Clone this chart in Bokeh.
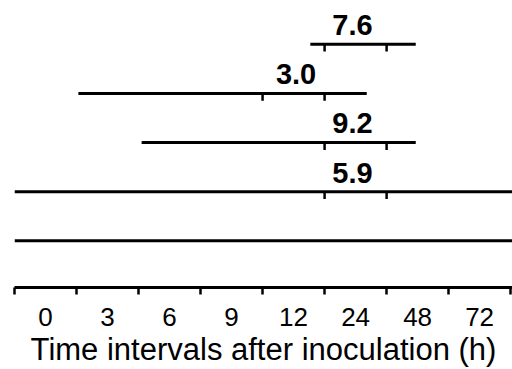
from bokeh.plotting import figure
from bokeh.models import Range1d, FixedTicker, CustomJSTickFormatter, ColumnDataSource
from bokeh.core.properties import value
from bokeh.embed import file_html
from bokeh.resources import INLINE

# categories (time intervals, h)
categories = ["0", "3", "6", "9", "12", "24", "48", "72"]

# rows (top to bottom): level, span start/end (in interval units)
row_level = [5, 4, 3, 2, 1]
row_start = [4.77, 1.03, 2.05, 0.0, 0.0]
row_end = [6.47, 5.68, 6.47, 8.03, 8.03]

# tick marks on each row (interval boundaries)
mark_level = [5, 5, 4, 4, 3, 3, 2, 2]
mark_pos = [5, 6, 4, 5, 5, 6, 5, 6]

# value labels
label_level = [5, 4, 3, 2]
label_pos = [5.45, 4.54, 5.45, 5.45]
label_text = ["7.6", "3.0", "9.2", "5.9"]

FONT = "Liberation Sans"
LABEL_LIFT = 0.39   # gap between a row and its label, in row units
MARK_LEN = 0.15     # length of the row tick marks, in row units

p = figure(width=512, height=369, output_backend="svg", toolbar_location=None,
           x_range=Range1d(0, 8.03), y_range=Range1d(0.05, 5.89),
           min_border_left=14, min_border_right=0, min_border_top=0, min_border_bottom=80)
p.outline_line_color = None
p.xgrid.visible = False
p.ygrid.visible = False
p.yaxis.visible = False
p.background_fill_color = "white"

seg = ColumnDataSource(dict(x0=row_start, x1=row_end, y=row_level))
p.segment(x0="x0", y0="y", x1="x1", y1="y", source=seg, line_color="black", line_width=3)

marks = ColumnDataSource(dict(x=mark_pos, y0=mark_level, y1=[v - MARK_LEN for v in mark_level]))
p.segment(x0="x", y0="y0", x1="x", y1="y1", source=marks, line_color="black", line_width=2.5)

lab = ColumnDataSource(dict(x=label_pos, y=[v + LABEL_LIFT for v in label_level], t=label_text))
p.text(x="x", y="y", text="t", source=lab, text_font=value(FONT), text_font_style="bold",
       text_font_size="29px", text_align="center", text_baseline="alphabetic",
       text_color="black")

ax = p.xaxis[0]
ax.ticker = FixedTicker(ticks=[i + 0.5 for i in range(len(categories))],
                        minor_ticks=list(range(len(categories) + 1)))
ax.formatter = CustomJSTickFormatter(args=dict(labels=categories),
                                     code="return labels[Math.floor(tick)];")
ax.axis_line_width = 3
ax.axis_line_color = "black"
ax.major_tick_out = 0
ax.major_tick_in = 0
ax.minor_tick_out = 7
ax.minor_tick_in = 0
ax.minor_tick_line_width = 2.5
ax.minor_tick_line_color = "black"
ax.major_label_text_font = FONT
ax.major_label_text_font_size = "26px"
ax.major_label_text_color = "black"
ax.major_label_standoff = 13
ax.axis_label = "Time intervals after inoculation (h)"
ax.axis_label_text_font = FONT
ax.axis_label_text_font_size = "31px"
ax.axis_label_text_font_style = "normal"
ax.axis_label_text_color = "black"
ax.axis_label_standoff = 3

open("out.html", "w").write(file_html(p, INLINE))
